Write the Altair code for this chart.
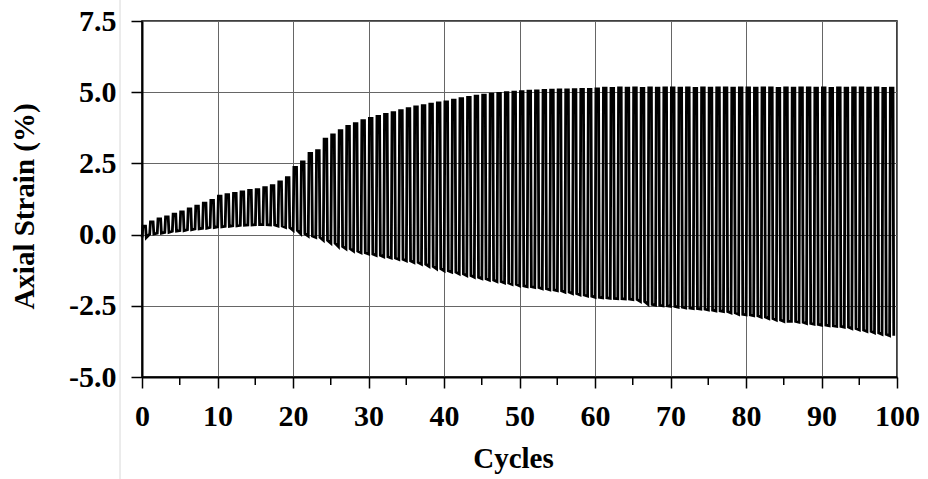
import altair as alt
import pandas as pd

# Peak (max) and trough (min) axial strain (%) of each loading cycle
peaks = [0.30, 0.45, 0.55, 0.62, 0.72, 0.80, 0.90, 1.00, 1.10, 1.20,
         1.35, 1.40, 1.45, 1.50, 1.55, 1.58, 1.65, 1.72, 1.85, 2.00,
         2.36, 2.55, 2.85, 2.95, 3.35, 3.50, 3.65, 3.80, 3.90, 4.00,
         4.08, 4.15, 4.22, 4.28, 4.35, 4.42, 4.48, 4.53, 4.58, 4.62,
         4.66, 4.72, 4.77, 4.82, 4.86, 4.90, 4.93, 4.96, 4.98, 5.00,
         5.02, 5.04, 5.05, 5.06, 5.07, 5.08, 5.08, 5.09, 5.10, 5.10,
         5.12, 5.14, 5.13, 5.15, 5.14, 5.15, 5.13, 5.15, 5.14, 5.15,
         5.15, 5.14, 5.15, 5.13, 5.15, 5.14, 5.15, 5.15, 5.14, 5.15,
         5.15, 5.14, 5.15, 5.15, 5.13, 5.15, 5.14, 5.15, 5.15, 5.14,
         5.15, 5.13, 5.15, 5.14, 5.15, 5.15, 5.14, 5.15, 5.13, 5.14]

troughs = [-0.10, 0.02, 0.05, 0.08, 0.12, 0.14, 0.17, 0.20, 0.22, 0.25,
           0.27, 0.29, 0.31, 0.33, 0.34, 0.35, 0.35, 0.34, 0.30, 0.25,
           0.15, 0.03, -0.05, -0.10, -0.20, -0.30, -0.42, -0.50, -0.58, -0.64,
           -0.68, -0.73, -0.78, -0.82, -0.87, -0.92, -0.98, -1.04, -1.12, -1.20,
           -1.27, -1.32, -1.38, -1.44, -1.50, -1.55, -1.60, -1.65, -1.70, -1.75,
           -1.80, -1.83, -1.86, -1.90, -1.94, -1.97, -2.02, -2.07, -2.12, -2.16,
           -2.20, -2.22, -2.24, -2.25, -2.26, -2.28, -2.35, -2.45, -2.48, -2.50,
           -2.52, -2.55, -2.58, -2.60, -2.62, -2.65, -2.68, -2.70, -2.75, -2.80,
           -2.82, -2.85, -2.90, -2.95, -3.00, -3.05, -3.05, -3.08, -3.12, -3.15,
           -3.18, -3.20, -3.22, -3.25, -3.30, -3.35, -3.40, -3.45, -3.50, -3.55]

cycles = list(range(len(peaks)))
x_ticks = [0, 10, 20, 30, 40, 50, 60, 70, 80, 90, 100]
minor_ticks = [5, 15, 25, 35, 45, 55, 65, 75, 85, 95]
y_ticks = [-5.0, -2.5, 0.0, 2.5, 5.0, 7.5]

# Build the trace: each cycle is trough -> peak -> peak -> trough
rows = []
for c, p, t in zip(cycles, peaks, troughs):
    for frac, v in ((0.02, t), (0.12, p), (0.47, p), (0.57, t)):
        rows.append({"cycle": c + frac, "strain": v})
df = pd.DataFrame(rows)
df["order"] = range(len(df))

FONT = "Liberation Serif"

xscale = alt.Scale(domain=[0, 100], nice=False, zero=False)
yscale = alt.Scale(domain=[-5, 7.5], nice=False, zero=False)

xaxis = alt.Axis(values=x_ticks, title="Cycles", format="d",
                 titleX=371, titleY=81, titleBaseline="middle",
                 labelPadding=13)

line = alt.Chart(df).mark_line(color="black", strokeWidth=2.8, strokeJoin="miter").encode(
    x=alt.X("cycle:Q", scale=xscale, axis=xaxis),
    y=alt.Y("strain:Q", scale=yscale,
            axis=alt.Axis(values=y_ticks, format=".1f", title="Axial Strain (%)",
                          labelExpr="replace(datum.label, '\u2212', '-')",
                          titleAngle=-90, titleX=-118, titleY=185,
                          titleBaseline="middle", titleAlign="center",
                          labelPadding=15)),
    order="order:Q",
)

minor = alt.Chart(pd.DataFrame({"cycle": minor_ticks})).mark_rule(
    color="black", strokeWidth=1.5
).encode(
    x=alt.X("cycle:Q", scale=xscale, axis=xaxis),
    y=alt.value(356),
    y2=alt.value(364),
)

edge = alt.Chart(pd.DataFrame({"e": [0]})).mark_rule(
    color="#d8d8d8", strokeWidth=1
).encode(
    x=alt.value(-22),
    y=alt.value(-21),
    y2=alt.value(458),
)

chart = alt.layer(line, minor, edge).properties(
    width=755,
    height=356,
    padding={"left": 142, "top": 21, "right": 31, "bottom": 102},
    autosize=alt.AutoSizeParams(type="none"),
    background="white",
).configure_view(
    stroke="black", strokeWidth=1.5
).configure_axis(
    labelFont=FONT, labelFontSize=30, labelFontWeight="bold", labelColor="black",
    titleFont=FONT, titleFontSize=29, titleFontWeight="bold", titleColor="black",
    domainColor="black", domainWidth=2,
    tickColor="black", tickWidth=1.5, tickSize=11,
    gridColor="#666666", gridWidth=1, gridOpacity=1,
    labelFlush=False, labelOverlap=False,
)

chart.save("out.html", embed_options={"renderer": "svg", "actions": False})
